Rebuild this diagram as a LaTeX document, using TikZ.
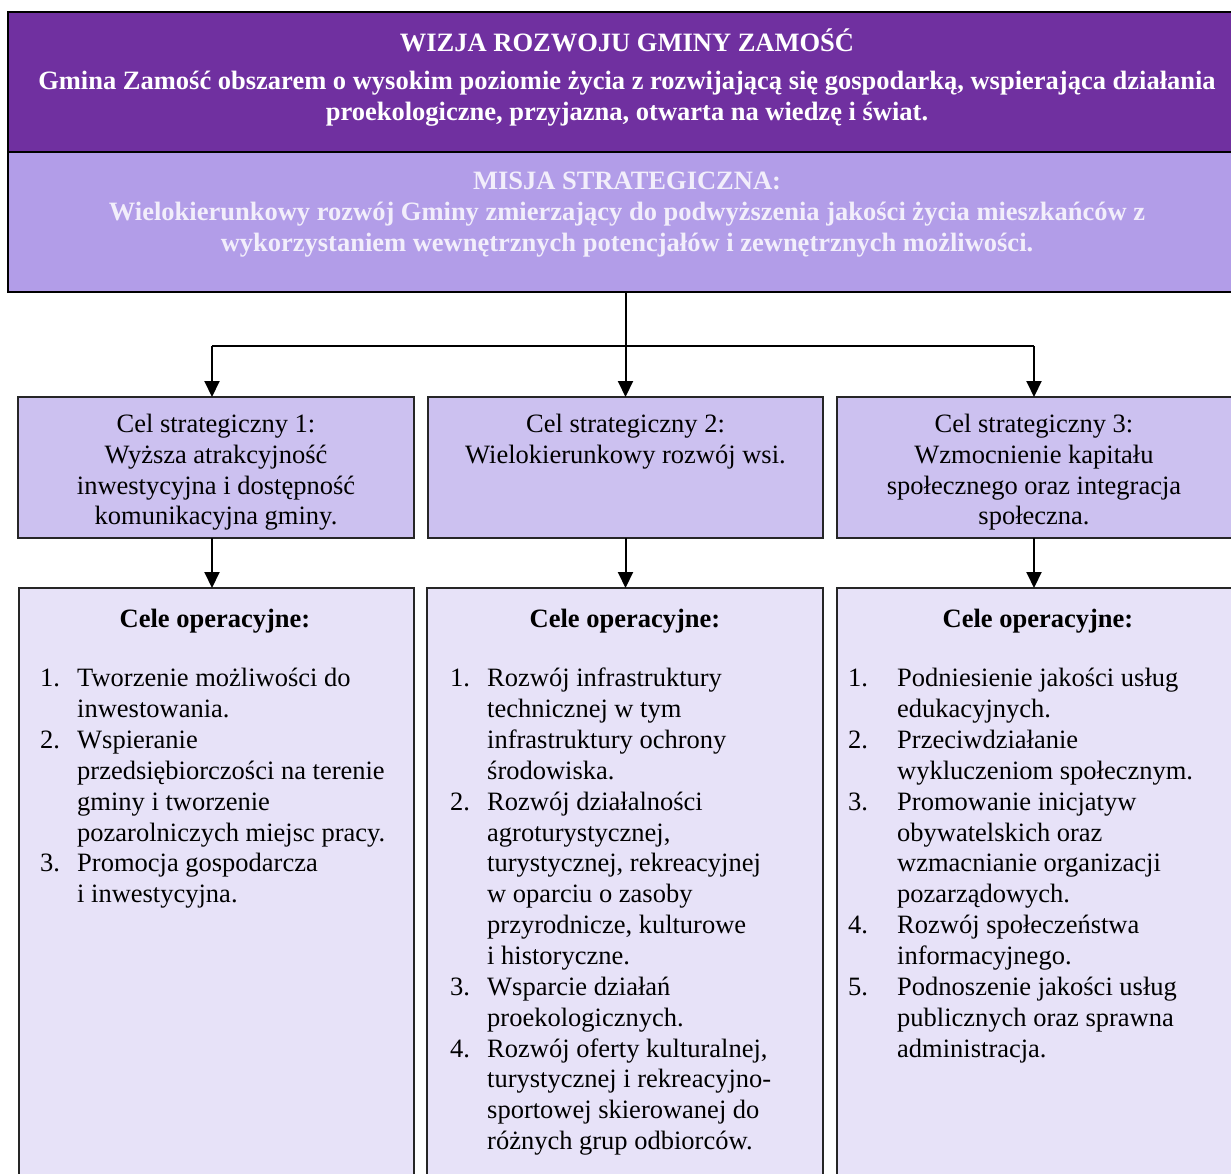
\documentclass[tikz,border=0pt]{standalone}
\usepackage{fontspec}
\setmainfont{Liberation Serif}
\usetikzlibrary{arrows.meta}
\definecolor{vizfill}{HTML}{7030A0}
\definecolor{misfill}{HTML}{B29DE8}
\definecolor{mistext}{HTML}{F2EEFB}
\definecolor{strfill}{HTML}{CCC1F0}
\definecolor{opfill}{HTML}{E7E2F8}
\newlength\numw
\newcommand\NI[1]{\makebox[\numw][l]{#1}}
\newcommand\NC{\hspace*{\numw}}
\begin{document}
\begin{tikzpicture}[x=1pt,y=-1pt,
  bigbox/.style={draw=black, line width=2pt, rectangle, inner sep=0, outer sep=0, anchor=north west},
  goalbox/.style={draw=black!85, line width=1.3pt, rectangle, inner sep=0, outer sep=0, anchor=north west},
  txt/.style={inner sep=0, anchor=north, align=center, font=\fontsize{26.5}{30.7}\selectfont},
  btxt/.style={txt, font=\fontsize{26.5}{31.2}\selectfont\bfseries},
  lst/.style={inner sep=0, anchor=north west, align=left, font=\fontsize{26.5}{30.85}\selectfont\setlength\numw{#1}},
  conn/.style={line width=2pt, black},
  arr/.style={conn, -{Triangle[length=16pt,width=15pt]}}]
\useasboundingbox (0,0) rectangle (1231,1173);
\fill[white] (0,0) rectangle (1231,1173);
\clip (0,0) rectangle (1231,1173);

% vision and mission
\node[bigbox, fill=vizfill, minimum width=1236pt, minimum height=140pt] (v) at (8,12) {};
\node[bigbox, fill=misfill, minimum width=1236pt, minimum height=140pt] (m) at (8,152) {};
\node[btxt, text=white] (vt) at (627,29) {\strut WIZJA ROZWOJU GMINY ZAMOŚĆ};
\node[btxt, text=white] (vx) at (627,67.5) {\strut Gmina Zamość obszarem o wysokim poziomie życia z rozwijającą się gospodarką, wspierająca działania\\ proekologiczne, przyjazna, otwarta na wiedzę i świat.};
\node[btxt, text=mistext] (mt) at (627,167.5) {\strut MISJA STRATEGICZNA:\\ Wielokierunkowy rozwój Gminy zmierzający do podwyższenia jakości życia mieszkańców z\\ wykorzystaniem wewnętrznych potencjałów i zewnętrznych możliwości.};

% strategic goals
\node[goalbox, fill=strfill, minimum width=396pt, minimum height=141pt] (s1) at (18,397) {};
\node[goalbox, fill=strfill, minimum width=395pt, minimum height=141pt] (s2) at (428,397) {};
\node[goalbox, fill=strfill, minimum width=410pt, minimum height=141pt] (s3) at (837,397) {};
\node[txt] (s1t) at (216,411) {\strut Cel strategiczny 1:\\ Wyższa atrakcyjność\\ inwestycyjna i dostępność\\ komunikacyjna gminy.};
\node[txt] (s2t) at (625.5,411) {\strut Cel strategiczny 2:\\ Wielokierunkowy rozwój wsi.};
\node[txt] (s3t) at (1034,411) {\strut Cel strategiczny 3:\\ Wzmocnienie kapitału\\ społecznego oraz integracja\\ społeczna.};

% operational goals
\node[goalbox, fill=opfill, minimum width=395pt, minimum height=620pt] (o1) at (19,588) {};
\node[goalbox, fill=opfill, minimum width=396pt, minimum height=620pt] (o2) at (427,588) {};
\node[goalbox, fill=opfill, minimum width=410pt, minimum height=620pt] (o3) at (837,588) {};
\node[btxt] (o1h) at (215,605) {\strut Cele operacyjne:};
\node[btxt] (o2h) at (625,605) {\strut Cele operacyjne:};
\node[btxt] (o3h) at (1038,605) {\strut Cele operacyjne:};

\node[lst=37pt] (o1l) at (40,665) {\strut\NI{1.}Tworzenie możliwości do\\
\NC inwestowania.\\
\NI{2.}Wspieranie\\
\NC przedsiębiorczości na terenie\\
\NC gminy i tworzenie\\
\NC pozarolniczych miejsc pracy.\\
\NI{3.}Promocja gospodarcza\\
\NC i inwestycyjna.};

\node[lst=37pt] (o2l) at (450,665) {\strut\NI{1.}Rozwój infrastruktury\\
\NC technicznej w tym\\
\NC infrastruktury ochrony\\
\NC środowiska.\\
\NI{2.}Rozwój działalności\\
\NC agroturystycznej,\\
\NC turystycznej, rekreacyjnej\\
\NC w oparciu o zasoby\\
\NC przyrodnicze, kulturowe\\
\NC i historyczne.\\
\NI{3.}Wsparcie działań\\
\NC proekologicznych.\\
\NI{4.}Rozwój oferty kulturalnej,\\
\NC turystycznej i rekreacyjno-\\
\NC sportowej skierowanej do\\
\NC różnych grup odbiorców.};

\node[lst=49pt] (o3l) at (848,665) {\strut\NI{1.}Podniesienie jakości usług\\
\NC edukacyjnych.\\
\NI{2.}Przeciwdziałanie\\
\NC wykluczeniom społecznym.\\
\NI{3.}Promowanie inicjatyw\\
\NC obywatelskich oraz\\
\NC wzmacnianie organizacji\\
\NC pozarządowych.\\
\NI{4.}Rozwój społeczeństwa\\
\NC informacyjnego.\\
\NI{5.}Podnoszenie jakości usług\\
\NC publicznych oraz sprawna\\
\NC administracja.};

% connectors
\coordinate (hl) at (212,346);
\coordinate (hr) at (1034,346);
\draw[arr] (s2.north |- m.south) -- (s2.north);
\draw[conn] (hl) -- (hr);
\draw[arr] (hl) -- (hl |- s1.north);
\draw[arr] (hr) -- (hr |- s3.north);
\draw[arr] (s1.south -| hl) -- (o1.north -| hl);
\draw[arr] (s2.south) -- (s2.south |- o2.north);
\draw[arr] (s3.south -| hr) -- (o3.north -| hr);
\end{tikzpicture}
\end{document}
